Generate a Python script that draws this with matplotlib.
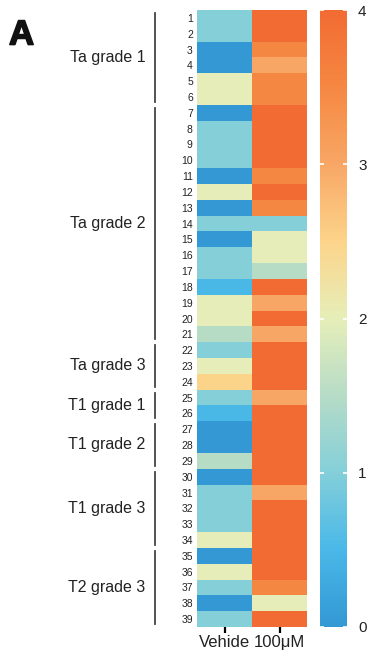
import numpy as np
import matplotlib.pyplot as plt
import matplotlib.patheffects as pe
from matplotlib.colors import LinearSegmentedColormap

plt.rcParams["font.family"] = ["Liberation Sans", "DejaVu Sans"]

# scores per sample, rows 1..39
vehicle = [1, 1, 0, 0, 2, 2, 0, 1, 1, 1, 0, 2, 0, 1, 0, 1, 1, 0.5, 2, 2,
           1.5, 1, 2, 2.5, 1, 0.5, 0, 0, 1.5, 0, 1, 1, 1, 2, 0, 2, 1, 0, 1]
treated = [4, 4, 3.5, 3, 3.5, 3.5, 4, 4, 4, 4, 3.5, 4, 3.5, 1, 2, 2, 1.5, 4, 3, 4,
           3, 4, 4, 4, 3, 4, 4, 4, 4, 4, 3, 4, 4, 4, 4, 4, 3.5, 2, 4]
columns = ["Vehide", "100\u03bcM"]

groups = ["Ta grade 1", "Ta grade 2", "Ta grade 3", "T1 grade 1",
          "T1 grade 2", "T1 grade 3", "T2 grade 3"]
group_sizes = [6, 15, 3, 2, 3, 5, 5]

cmap = LinearSegmentedColormap.from_list("score", [
    (0.0, "#3398d4"), (0.125, "#4ab8e8"), (0.25, "#84cfd9"),
    (0.375, "#b6dcc7"), (0.5, "#e6eeb9"), (0.625, "#fcd48a"),
    (0.75, "#f8a766"), (0.875, "#f58842"), (1.0, "#f26b32")])

W, H = 370, 661
fig = plt.figure(figsize=(W / 100, H / 100), dpi=100)
ax = fig.add_axes([197 / W, 1 - 627 / H, 110 / W, 617 / H])
cax = fig.add_axes([320 / W, 1 - 627 / H, 27 / W, 617 / H])

data = np.column_stack([vehicle, treated])
n = len(vehicle)
im = ax.imshow(data, cmap=cmap, vmin=0, vmax=4, aspect="auto",
               interpolation="nearest")

ax.set_yticks(range(n))
ax.set_yticklabels([str(i + 1) for i in range(n)], fontsize=7.5, color="#222222")
ax.tick_params(axis="y", length=0, pad=3)
ax.set_xticks(range(2))
ax.set_xticklabels(columns, fontsize=12, color="#222222")
ax.tick_params(axis="x", length=4, width=1.6, color="black", pad=2)
for s in ax.spines.values():
    s.set_visible(False)

# group brackets on the left
trans = ax.get_yaxis_transform()
start = 0
for name, size in zip(groups, group_sizes):
    y0 = start - 0.5 + 0.18
    y1 = start + size - 0.5 - 0.2
    ax.plot([-0.38, -0.38], [y0, y1], color="#444444", lw=1.3,
            transform=trans, clip_on=False)
    ax.text(-0.47, (y0 + y1) / 2, name, transform=trans, ha="right",
            va="center", fontsize=11.5, color="#222222")
    start += size

cb = fig.colorbar(im, cax=cax, ticks=[0, 1, 2, 3, 4])
cb.outline.set_visible(False)
cax.tick_params(axis="y", left=True, right=True, direction="in", color="white",
                length=3, width=1.2, labelsize=11, pad=8, labelcolor="#222222")

fig.text(9 / W, 1 - 35 / H, "A", fontsize=25, fontweight="bold", va="center",
         color="#111111",
         path_effects=[pe.withStroke(linewidth=1.2, foreground="#111111")])

fig.savefig("out.png", dpi=100)
